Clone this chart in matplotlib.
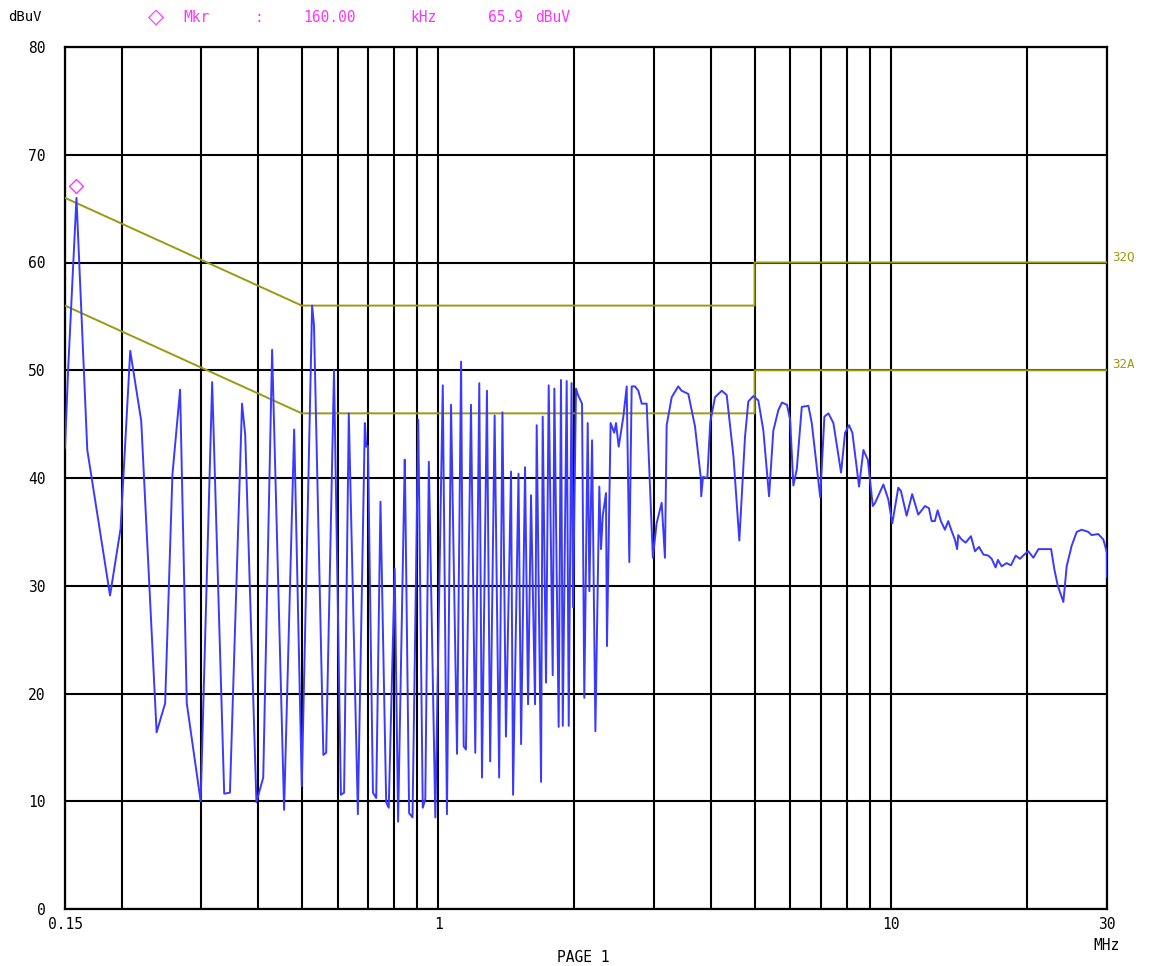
import matplotlib
matplotlib.use("Agg")
import matplotlib.pyplot as plt
from matplotlib.ticker import FixedLocator, FixedFormatter, NullLocator

# ---------------- data ----------------
freq_mhz = [
    0.150, 0.1525, 0.159, 0.1613, 0.168, 0.1886, 0.199, 0.209, 0.221, 0.239,
    0.2496, 0.259, 0.2693, 0.2786, 0.299, 0.317, 0.337, 0.347, 0.369, 0.375,
    0.397, 0.411, 0.430, 0.457, 0.481, 0.500, 0.527, 0.532, 0.558, 0.566,
    0.589, 0.610, 0.620, 0.635, 0.665, 0.689, 0.694, 0.700, 0.718, 0.730,
    0.746, 0.768, 0.778, 0.802, 0.816, 0.844, 0.846, 0.863, 0.878, 0.904,
    0.925, 0.937, 0.954, 0.986, 1.024, 1.046, 1.068, 1.101, 1.124, 1.139,
    1.152, 1.182, 1.208, 1.233, 1.250, 1.282, 1.303, 1.333, 1.364, 1.387,
    1.412, 1.449, 1.464, 1.505, 1.525, 1.556, 1.580, 1.604, 1.637, 1.651,
    1.688, 1.702, 1.731, 1.755, 1.791, 1.806, 1.846, 1.868, 1.885, 1.923,
    1.943, 1.971, 1.986, 2.016, 2.037, 2.079, 2.103, 2.140, 2.158, 2.188,
    2.225, 2.270, 2.290, 2.310, 2.348, 2.360, 2.404, 2.449, 2.471, 2.505,
    2.565, 2.609, 2.644, 2.676, 2.722, 2.768, 2.816, 2.888, 2.980, 3.038,
    3.117, 3.169, 3.197, 3.280, 3.391, 3.449, 3.569, 3.692, 3.801, 3.811,
    3.846, 3.931, 3.990, 4.088, 4.230, 4.338, 4.490, 4.626, 4.761, 4.842,
    4.966, 5.095, 5.227, 5.381, 5.499, 5.641, 5.745, 5.894, 5.990, 6.089,
    6.195, 6.355, 6.572, 6.686, 6.980, 7.129, 7.276, 7.463, 7.760, 7.920,
    8.082, 8.219, 8.504, 8.693, 8.890, 9.119, 9.227, 9.623, 9.869, 10.07,
    10.38, 10.52, 10.83, 11.14, 11.49, 11.89, 12.13, 12.30, 12.50, 12.68,
    12.89, 13.16, 13.38, 13.61, 13.84, 14.00, 14.08, 14.32, 14.62, 15.02,
    15.33, 15.65, 16.00, 16.40, 16.69, 17.03, 17.23, 17.56, 18.00, 18.41,
    18.86, 19.28, 19.70, 20.11, 20.63, 21.17, 21.90, 22.58, 22.96, 23.36,
    24.03, 24.44, 25.06, 25.72, 26.38, 27.27, 27.75, 28.69, 29.44, 29.98,
    30.00,
]
level_dbuv = [
    42.8, 50.3, 66.0, 59.9, 42.6, 29.1, 35.3, 51.8, 45.3, 16.4,
    19.1, 40.3, 48.2, 19.1, 10.0, 48.9, 10.7, 10.8, 46.9, 44.0,
    9.9, 12.2, 51.9, 9.2, 44.5, 11.4, 56.0, 54.2, 14.3, 14.5,
    50.0, 10.6, 10.8, 46.0, 8.8, 45.1, 42.9, 43.0, 10.8, 10.3,
    37.8, 9.9, 9.4, 31.6, 8.1, 41.7, 38.9, 8.9, 8.5, 45.4,
    9.4, 10.2, 41.5, 8.5, 48.6, 8.8, 46.8, 14.4, 50.8, 15.1,
    14.8, 46.8, 14.5, 48.8, 12.2, 48.1, 13.7, 45.8, 12.2, 46.1,
    16.0, 40.6, 10.6, 40.4, 15.3, 41.0, 19.0, 38.4, 19.0, 44.9,
    11.8, 45.7, 21.0, 48.6, 21.7, 48.3, 16.9, 49.1, 17.0, 49.0,
    17.0, 48.8, 28.0, 48.3, 47.7, 46.9, 19.6, 45.1, 29.5, 43.5,
    16.5, 39.2, 33.4, 36.5, 38.6, 24.4, 45.1, 44.2, 45.1, 42.9,
    45.7, 48.5, 32.2, 48.5, 48.5, 48.1, 46.9, 46.9, 32.6, 35.8,
    37.7, 32.6, 44.9, 47.5, 48.5, 48.1, 47.8, 44.8, 40.1, 38.3,
    40.1, 40.0, 45.2, 47.5, 48.1, 47.7, 42.0, 34.2, 43.8, 47.1,
    47.6, 47.2, 44.4, 38.3, 44.4, 46.3, 47.0, 46.8, 45.4, 39.3,
    40.8, 46.6, 46.7, 45.1, 38.2, 45.7, 46.0, 45.1, 40.5, 44.2,
    44.9, 44.2, 39.2, 42.6, 41.7, 37.4, 37.7, 39.4, 38.0, 35.8,
    39.1, 38.8, 36.5, 38.5, 36.6, 37.4, 37.2, 36.0, 36.0, 37.0,
    36.0, 35.2, 36.0, 35.1, 34.3, 33.4, 34.7, 34.3, 34.0, 34.6,
    33.2, 33.6, 32.9, 32.8, 32.5, 31.7, 32.4, 31.8, 32.1, 31.9,
    32.8, 32.5, 32.9, 33.2, 32.6, 33.4, 33.4, 33.4, 31.5, 30.0,
    28.5, 31.8, 33.7, 35.0, 35.2, 35.0, 34.7, 34.8, 34.3, 33.1,
    30.8,
]

qp_limit_freq = [0.15, 0.5, 5.0, 5.0, 30.0]
qp_limit_level = [66.0, 56.0, 56.0, 60.0, 60.0]
av_limit_freq = [0.15, 0.5, 5.0, 5.0, 30.0]
av_limit_level = [56.0, 46.0, 46.0, 50.0, 50.0]
qp_label = "32Q"
av_label = "32A"

marker_freq = 0.159
marker_level = 65.9
marker_text = ["Mkr", ":", "160.00", "kHz", "65.9", "dBuV"]

grid_freqs = [0.15, 0.2, 0.3, 0.4, 0.5, 0.6, 0.7, 0.8, 0.9, 1, 2, 3, 4, 5,
              6, 7, 8, 9, 10, 20, 30]
x_tick_labels = {0.15: "0.15", 1: "1", 10: "10", 30: "30"}
y_ticks = [0, 10, 20, 30, 40, 50, 60, 70, 80]

# ---------------- figure ----------------
W, H = 1161, 966
fig = plt.figure(figsize=(W / 100, H / 100), dpi=100)
fig.patch.set_facecolor("white")

def fx(px):
    return px / W

def fy(py):
    return 1 - py / H

ax = fig.add_axes([fx(65), fy(909), (1107 - 65) / W, (909 - 47) / H])
ax.set_xscale("log")
ax.set_xlim(0.15, 30)
ax.set_ylim(0, 80)

mono = "DejaVu Sans Mono"
ax.xaxis.set_major_locator(FixedLocator(grid_freqs))
ax.xaxis.set_major_formatter(FixedFormatter(
    [x_tick_labels.get(f, "") for f in grid_freqs]))
ax.xaxis.set_minor_locator(NullLocator())
ax.yaxis.set_major_locator(FixedLocator(y_ticks))
ax.yaxis.set_major_formatter(FixedFormatter([str(v) for v in y_ticks]))
ax.tick_params(axis="both", length=0, labelsize=10.5)
ax.tick_params(axis="y", pad=14)
ax.tick_params(axis="x", pad=6)
for lab in ax.get_xticklabels() + ax.get_yticklabels():
    lab.set_family(mono)

ax.grid(True, which="major", color="black", linewidth=1.5)
ax.set_axisbelow(True)
for sp in ax.spines.values():
    sp.set_color("black")
    sp.set_linewidth(1.6)

olive = "#9a9a10"
ax.plot(qp_limit_freq, qp_limit_level, color=olive, lw=1.4, zorder=3)
ax.plot(av_limit_freq, av_limit_level, color=olive, lw=1.4, zorder=3)

ax.plot(freq_mhz, level_dbuv, color="#3a3aff", lw=1.4, zorder=4)

ax.plot([marker_freq], [marker_level + 1.2], marker="D", ms=7.5,
        mfc="none", mec="#ff33ff", mew=1.0, zorder=5)

# right side limit labels
ax.annotate(qp_label, xy=(1, qp_limit_level[-1]), xycoords=("axes fraction", "data"),
            xytext=(4, 4), textcoords="offset points", color=olive,
            fontsize=9, family=mono, va="center", ha="left")
ax.annotate(av_label, xy=(1, av_limit_level[-1]), xycoords=("axes fraction", "data"),
            xytext=(4, 4), textcoords="offset points", color=olive,
            fontsize=9, family=mono, va="center", ha="left")

# header
fig.text(fx(8), fy(17), "dBuV", family=mono, fontsize=10, color="black",
         va="center", ha="left")
fig.text(fx(156), fy(17), "\u25c7", family="DejaVu Sans", fontsize=15,
         color="#ff33ff", va="center", ha="center")
mk_x = [183, 255, 303, 410, 488, 535]
for px, t in zip(mk_x, marker_text):
    fig.text(fx(px), fy(17), t, family=mono, fontsize=10.5, color="#ff33ff",
             va="center", ha="left")

# bottom texts
fig.text(fx(1107), fy(945), "MHz", family=mono, fontsize=10.5, color="black",
         va="center", ha="center")
fig.text(fx(583), fy(958), "PAGE 1", family=mono, fontsize=10.5, color="black",
         va="center", ha="center")

fig.savefig("out.png", dpi=100, facecolor="white")
